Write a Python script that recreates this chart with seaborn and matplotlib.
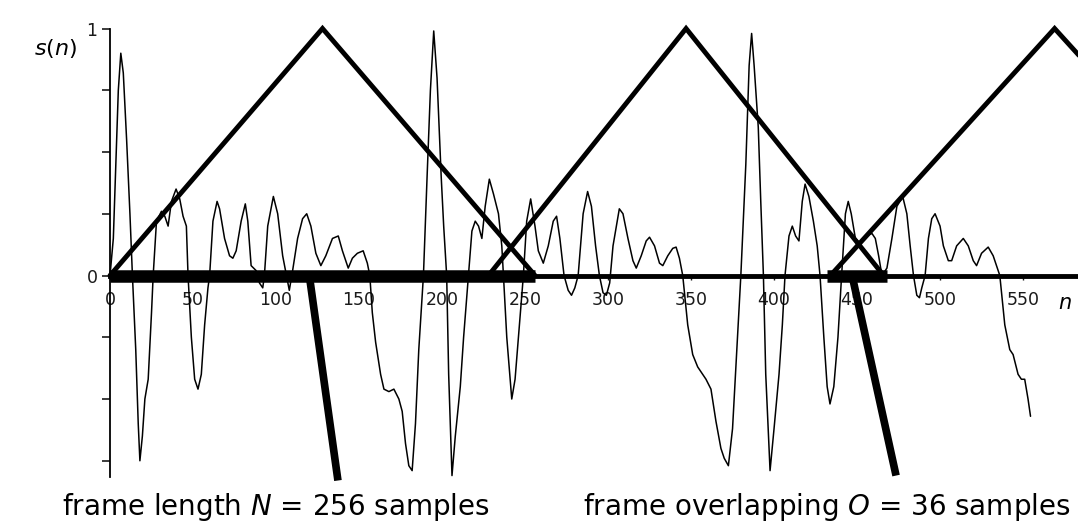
import matplotlib
matplotlib.use("Agg")
import matplotlib.pyplot as plt
import numpy as np
import pandas as pd
import seaborn as sns

# Speech signal samples s(n): sample index and amplitude at the turning points
sig_n = [0, 2, 4, 5, 6.5, 8, 10, 12, 13.5, 15.5, 17, 18, 19.5, 21, 23, 25, 26, 28, 31, 33, 35, 37,
         39.8, 42, 44, 46, 47, 49, 51, 53, 55, 57, 59, 60, 62, 64.5, 66, 69, 72, 74, 76, 79, 81.5,
         83, 85, 88, 90, 92, 93, 95, 98.4, 101, 104, 106, 108, 110, 113, 116, 118.5, 121, 124, 127,
         130, 134, 137.5, 140, 143.5, 146, 149, 152.5, 155, 156.5, 158, 160, 163, 165, 168, 171,
         174, 176, 178, 180, 182, 184, 186, 188.8, 191, 193, 195, 197, 199.5, 201, 202.8, 204, 206,
         208, 211, 213, 215.9, 218, 220, 222, 224, 226, 228.5, 231, 234, 236, 237, 239, 242, 244,
         246, 249, 251, 253.4, 256, 258, 261, 264, 267, 269, 271, 273.5, 276, 278, 280, 282, 285,
         287.7, 290, 292.5, 294.8, 297, 299, 301, 303, 306.8, 309, 312, 315, 317, 320, 323, 325,
         328, 331, 333, 336, 339, 341, 343, 345, 348, 351, 354, 356, 359, 362, 365, 368, 370,
         372.5, 375, 378, 380, 383, 385, 386.5, 388, 390.5, 392, 393.6, 395, 397.6, 400, 403, 405,
         406.6, 409, 411, 413, 415, 417, 418.7, 421, 423.7, 426, 427.7, 430, 432, 433.7, 436,
         438.5, 440.7, 443, 444.7, 446.5, 449, 452, 455, 459, 461, 463, 465, 468, 471, 474, 477.5,
         480, 482, 484, 486, 487.6, 489, 491, 493, 495, 497, 500, 502, 505, 507, 510, 514, 517,
         520, 522, 525, 529, 532, 534, 536, 539, 542, 544, 547, 549, 551, 553, 554.5]
sig_s = [0, 0.15, 0.55, 0.75, 0.90, 0.82, 0.55, 0.25, 0, -0.30, -0.60, -0.75, -0.65, -0.50, -0.42,
         -0.15, 0, 0.22, 0.26, 0.24, 0.20, 0.30, 0.35, 0.31, 0.24, 0.20, 0, -0.25, -0.42, -0.46,
         -0.40, -0.20, -0.05, 0, 0.22, 0.30, 0.27, 0.15, 0.08, 0.07, 0.10, 0.22, 0.29, 0.22, 0.04,
         0.02, -0.03, -0.05, 0, 0.20, 0.32, 0.25, 0.08, 0.01, -0.06, 0.02, 0.15, 0.23, 0.25, 0.20,
         0.09, 0.04, 0.08, 0.15, 0.16, 0.10, 0.03, 0.07, 0.09, 0.10, 0.05, 0, -0.15, -0.27, -0.40,
         -0.46, -0.47, -0.46, -0.50, -0.55, -0.68, -0.77, -0.79, -0.60, -0.30, 0, 0.40, 0.75, 0.99,
         0.80, 0.40, 0.20, 0, -0.40, -0.81, -0.65, -0.45, -0.25, 0, 0.18, 0.22, 0.20, 0.15, 0.28,
         0.39, 0.33, 0.25, 0.12, 0, -0.25, -0.50, -0.42, -0.25, 0, 0.22, 0.31, 0.20, 0.10, 0.05,
         0.12, 0.22, 0.24, 0.15, 0, -0.06, -0.08, -0.05, 0, 0.25, 0.34, 0.28, 0.12, 0, -0.07,
         -0.08, -0.03, 0.12, 0.27, 0.25, 0.15, 0.06, 0.03, 0.08, 0.14, 0.155, 0.12, 0.05, 0.04,
         0.08, 0.11, 0.115, 0.07, 0, -0.20, -0.32, -0.37, -0.39, -0.42, -0.46, -0.59, -0.70,
         -0.74, -0.77, -0.62, -0.25, 0, 0.45, 0.85, 0.98, 0.85, 0.60, 0.30, 0, -0.40, -0.79, -0.62,
         -0.40, -0.20, 0, 0.16, 0.20, 0.16, 0.14, 0.30, 0.37, 0.32, 0.22, 0.12, 0, -0.25, -0.45,
         -0.52, -0.45, -0.25, 0, 0.25, 0.30, 0.25, 0.15, 0.13, 0.16, 0.17, 0.15, 0.08, 0, 0.03,
         0.15, 0.28, 0.32, 0.25, 0.12, 0, -0.08, -0.09, -0.05, 0, 0.15, 0.23, 0.25, 0.20, 0.12,
         0.06, 0.06, 0.12, 0.15, 0.12, 0.06, 0.04, 0.09, 0.115, 0.08, 0.04, 0, -0.20, -0.30,
         -0.32, -0.40, -0.42, -0.42, -0.50, -0.57]

# Triangular analysis windows: start, peak and end sample of each frame
win_start = [0, 228, 434]
win_peak = [128, 347, 569]
win_end = [256, 466, 704]

# Highlighted spans on the n axis: one full frame and the overlap of two frames
frame_span = [0, 256]
overlap_span = [432, 468]

x_ticks = list(range(0, 551, 50))
y_ticks = [-0.75, -0.5, -0.25, 0, 0.25, 0.5, 0.75, 1]
y_tick_labels = ["", "", "", "0", "", "", "", "1"]

sns.set_theme(style="white")
plt.rcParams["font.family"] = ["DejaVu Sans"]
plt.rcParams["mathtext.fontset"] = "dejavusans"
plt.rcParams["text.color"] = "black"

fig = plt.figure(figsize=(10.78, 5.23), dpi=100)
fig.patch.set_facecolor("white")
ax = fig.add_axes([0, 0, 1, 1])
ax.set_facecolor("white")
ax.set_xlim(-66.27, 583.1)
ax.set_ylim(-1.002, 1.1154)

signal = pd.DataFrame({"n": sig_n, "s": sig_s})
sns.lineplot(data=signal, x="n", y="s", sort=False, estimator=None,
             color="black", linewidth=1.1, ax=ax, zorder=2)

for s0, p0, e0 in zip(win_start, win_peak, win_end):
    sns.lineplot(x=[s0, p0, e0], y=[0, 1, 0], sort=False, estimator=None,
                 color="black", linewidth=3.5, ax=ax, zorder=3)
for line in ax.lines[1:]:
    line.set_solid_joinstyle("miter")

for span in (frame_span, overlap_span):
    ax.plot(span, [0, 0], color="black", linewidth=9, solid_capstyle="butt", zorder=4)

# pointers from the highlighted spans down to their captions
ax.plot([120.5, 137.3], [-0.022, -0.83], color="black", linewidth=5.5,
        solid_capstyle="butt", zorder=4)
ax.plot([447.6, 473.5], [-0.018, -0.81], color="black", linewidth=5.5,
        solid_capstyle="butt", zorder=4)

ax.set_xlabel("")
ax.set_ylabel("")
for side in ("top", "right"):
    ax.spines[side].set_visible(False)
ax.spines["left"].set_position(("data", 0))
ax.spines["bottom"].set_position(("data", 0))
ax.spines["left"].set_bounds(-0.815, 1.0)
ax.spines["bottom"].set_bounds(0, 583.1)
ax.spines["left"].set_linewidth(1.3)
ax.spines["bottom"].set_linewidth(3.5)
for sp in ax.spines.values():
    sp.set_color("black")

ax.set_xticks(x_ticks)
ax.set_xticklabels([str(t) for t in x_ticks])
ax.set_yticks(y_ticks)
ax.set_yticklabels(y_tick_labels)
ax.tick_params(axis="x", bottom=True, direction="out", length=3, width=1,
               pad=8, labelsize=12.5, colors="#1a1a1a")
ax.tick_params(axis="y", left=True, direction="out", length=6, width=1.2,
               pad=3, labelsize=12.5, colors="#1a1a1a")

ax.text(-33, 0.92, "$s(n)$", fontsize=16, ha="center", va="center", color="black")
ax.text(575, -0.11, "$n$", fontsize=15, ha="center", va="center", color="black")

fig.text(62 / 1078, 1 - 515 / 523, "frame length $N$ = 256 samples",
         fontsize=20, ha="left", va="baseline", color="black")
fig.text(583 / 1078, 1 - 515 / 523, "frame overlapping $O$ = 36 samples",
         fontsize=20, ha="left", va="baseline", color="black")

fig.savefig("out.png", dpi=100, facecolor="white")
